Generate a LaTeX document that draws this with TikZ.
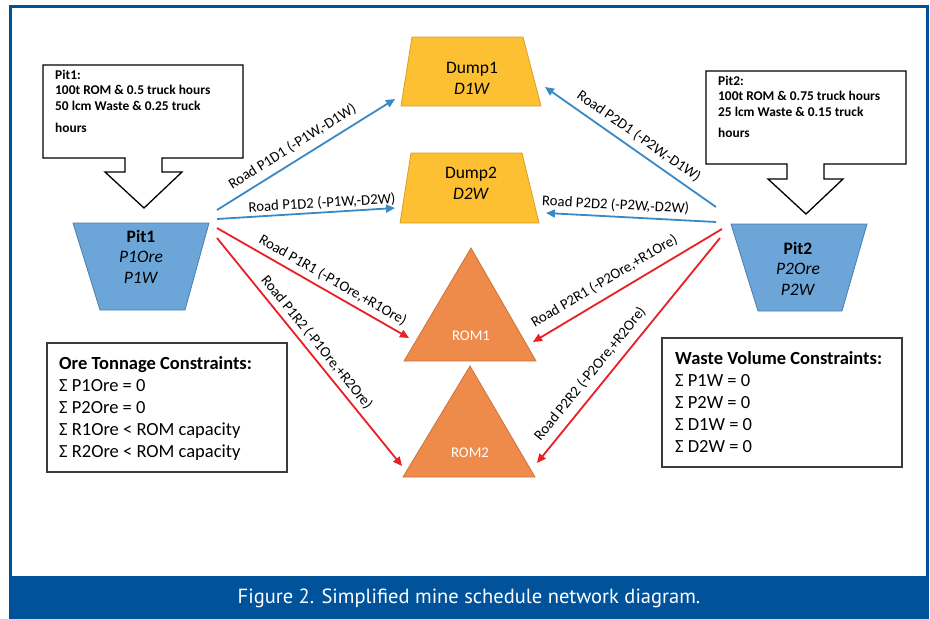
\documentclass[tikz,border=0pt]{standalone}
\usepackage{fontspec}
\setmainfont{Carlito}
\newfontfamily\captionfont{PT Sans}
\usetikzlibrary{arrows.meta}

\definecolor{frameblue}{RGB}{0,83,155}
\definecolor{pitblue}{RGB}{108,166,216}
\definecolor{pitedge}{RGB}{75,125,175}
\definecolor{dumpyellow}{RGB}{252,192,50}
\definecolor{dumpedge}{RGB}{215,160,40}
\definecolor{romorange}{RGB}{238,139,75}
\definecolor{romedge}{RGB}{205,115,60}
\definecolor{roadblue}{RGB}{56,137,198}
\definecolor{roadred}{RGB}{234,30,35}
\definecolor{boxgrey}{RGB}{60,60,60}

% multi-line text whose baseline is the first line
\newcommand{\leftlines}[1]{\begin{tabular}[t]{@{}l@{}}#1\end{tabular}}
\newcommand{\midlines}[1]{\begin{tabular}[t]{@{}c@{}}#1\end{tabular}}

\tikzset{
  road/.style={line width=1.8pt, -{Triangle[length=9pt,width=8pt]}},
  wasteroad/.style={road, draw=roadblue},
  oreroad/.style={road, draw=roadred},
  roadlabel/.style={font=\fontsize{14.8}{17}\selectfont, sloped, inner sep=0pt},
  pitshape/.style={fill=pitblue, draw=pitedge, line width=0.8pt},
  dumpshape/.style={fill=dumpyellow, draw=dumpedge, line width=0.8pt},
  romshape/.style={fill=romorange, draw=romedge, line width=0.8pt},
  shapetext/.style={anchor=base, inner sep=0pt, font=\fontsize{17.5}{20.5}\selectfont},
  romtext/.style={anchor=base, inner sep=0pt, text=white, font=\fontsize{14.8}{17}\selectfont},
  callout/.style={draw=black, fill=white, line width=1.3pt, line join=miter},
  callouttext/.style={anchor=base west, inner sep=0pt, font=\fontsize{13.4}{15.5}\selectfont\bfseries},
  consbox/.style={draw=boxgrey, line width=1.4pt},
  constext/.style={anchor=base west, inner sep=0pt, font=\fontsize{18.5}{22.2}\selectfont},
  captext/.style={text=white, inner sep=0pt, font=\captionfont\fontsize{20.5}{24}\selectfont},
}

\begin{document}
\begin{tikzpicture}[x=1pt,y=-1pt]
\useasboundingbox (0,0) rectangle (930,619);

% page frame and caption band
\draw[frameblue, line width=3pt] (10.5,6.5) rectangle (927.5,577);
\fill[frameblue] (9,576) rectangle (929,619);
\node[captext] (caption) at (469,598) {Figure 2. Simplified mine schedule network diagram.};

% pits
\draw[pitshape] (73,223) -- (209,223) -- (185,310) -- (100,310) -- cycle;
\node[shapetext] (pit1) at (141,242) {\midlines{\textbf{Pit1}\\\textit{P1Ore}\\\textit{P1W}}};
\draw[pitshape] (731,224) -- (867,224) -- (842,311) -- (758,311) -- cycle;
\node[shapetext] (pit2) at (798,254) {\midlines{\textbf{Pit2}\\\textit{P2Ore}\\\textit{P2W}}};

% dumps
\draw[dumpshape] (412,37) -- (523,37) -- (541,106) -- (401,106) -- cycle;
\node[shapetext] (dump1) at (472,73) {\midlines{Dump1\\[1pt]\textit{D1W}}};
\draw[dumpshape] (411,153) -- (522,153) -- (539,223) -- (400,223) -- cycle;
\node[shapetext] (dump2) at (471,178) {\midlines{Dump2\\[0.5pt]\textit{D2W}}};

% run-of-mine pads
\draw[romshape] (471,248) -- (536,361) -- (404,361) -- cycle;
\node[romtext] (rom1) at (471,340) {ROM1};
\draw[romshape] (470,366) -- (535,477) -- (403,477) -- cycle;
\node[romtext] (rom2) at (470,457) {ROM2};

% callouts for the pits
\draw[callout] (43,65) -- (243,65) -- (243,158) -- (162,158) -- (162,172) -- (182,172)
  -- (144,208) -- (105,172) -- (125,172) -- (125,158) -- (43,158) -- cycle;
\node[callouttext] (pit1note) at (55,79)
  {\leftlines{Pit1:\\100t ROM \& 0.5 truck hours\\50 lcm Waste \& 0.25 truck\\[6.5pt]hours}};
\draw[callout] (706,71) -- (906,71) -- (906,164) -- (824,164) -- (824,179) -- (843,179)
  -- (806,214) -- (768,179) -- (787,179) -- (787,164) -- (706,164) -- cycle;
\node[callouttext] (pit2note) at (718,85)
  {\leftlines{Pit2:\\100t ROM \& 0.75 truck hours\\25 lcm Waste \& 0.15 truck\\[5.5pt]hours}};

% road end points
\coordinate (p1a) at (217,210);
\coordinate (p1b) at (217,219);
\coordinate (p1c) at (217,228);
\coordinate (p1d) at (217,238);
\coordinate (p2a) at (716,207);
\coordinate (p2b) at (716,222);
\coordinate (p2c) at (722,229);
\coordinate (p2d) at (720,238);
\coordinate (d1l) at (395,99);
\coordinate (d2l) at (395,208);
\coordinate (d1r) at (545,87);
\coordinate (d2r) at (546,213);
\coordinate (r1l) at (409,338);
\coordinate (r2l) at (402,466);
\coordinate (r1r) at (533,342);
\coordinate (r2r) at (537,463);

% waste roads
\draw[wasteroad] (p1a) -- node[roadlabel, pos=0.465, above=6.7pt] {Road P1D1 (-P1W,-D1W)} (d1l);
\draw[wasteroad] (p1b) -- node[roadlabel, pos=0.593, above=2pt] {Road P1D2 (-P1W,-D2W)} (d2l);
\draw[wasteroad] (p2a) -- node[roadlabel, pos=0.497, above=6.2pt] {Road P2D1 (-P2W,-D1W)} (d1r);
\draw[wasteroad] (p2b) -- node[roadlabel, pos=0.594, above=4.4pt] {Road P2D2 (-P2W,-D2W)} (d2r);

% ore roads
\draw[oreroad] (p1c) -- node[roadlabel, pos=0.572, above=4.8pt] {Road P1R1 (-P1Ore,+R1Ore)} (r1l);
\draw[oreroad] (p1d) -- node[roadlabel, pos=0.49, above=4.4pt] {Road P1R2 (-P1Ore,+R2Ore)} (r2l);
\draw[oreroad] (p2c) -- node[roadlabel, pos=0.58, above=8.3pt] {Road P2R1 (-P2Ore,+R1Ore)} (r1r);
\draw[oreroad] (p2d) -- node[roadlabel, pos=0.646, above=7.7pt] {Road P2R2 (-P2Ore,+R2Ore)} (r2r);

% constraint boxes
\draw[consbox] (47,343) rectangle (287,472);
\node[constext] (orecons) at (59,369)
  {\leftlines{\textbf{Ore Tonnage Constraints:}\\Σ P1Ore = 0\\Σ P2Ore = 0\\Σ R1Ore < ROM capacity\\Σ R2Ore < ROM capacity}};
\draw[consbox] (662,338) rectangle (902,467);
\node[constext] (wastecons) at (675,364)
  {\leftlines{\textbf{Waste Volume Constraints:}\\Σ P1W = 0\\Σ P2W = 0\\Σ D1W = 0\\Σ D2W = 0}};
\end{tikzpicture}
\end{document}
